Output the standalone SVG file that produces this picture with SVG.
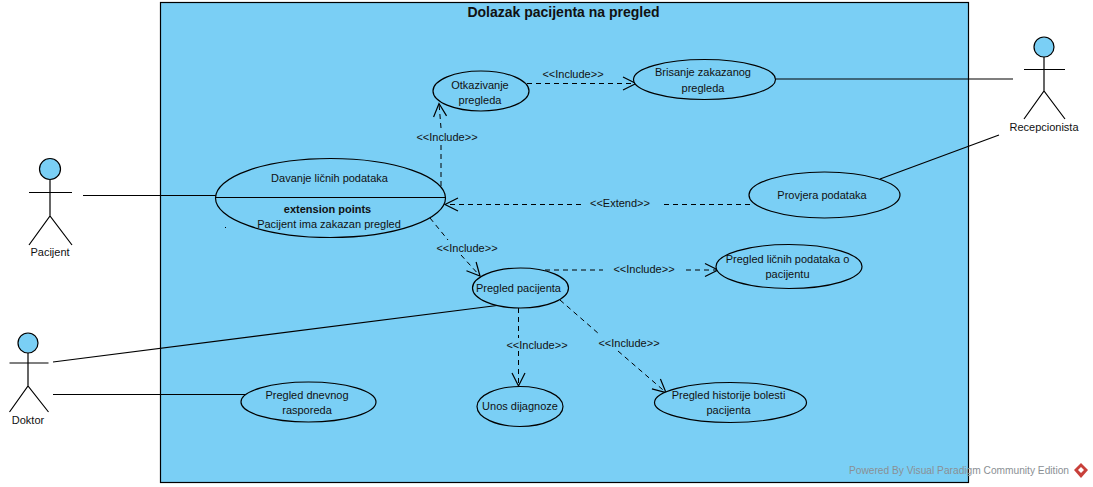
<svg xmlns="http://www.w3.org/2000/svg" width="1093" height="487" viewBox="0 0 1093 487">
<style>
text{font-family:"Liberation Sans",Arial,sans-serif;font-size:11px;fill:#111;text-anchor:middle}
.title{font-size:14px;font-weight:bold}
.b{font-weight:bold}
.uc{fill:#7acff5;stroke:#000;stroke-width:1.2}
.ln{fill:none;stroke:#000;stroke-width:1.2}
.dash{fill:none;stroke:#000;stroke-width:1;stroke-dasharray:5 4;marker-end:url(#open)}
.wm{fill:#8a8f94;text-anchor:start}
</style>
<defs>
<marker id="open" markerUnits="userSpaceOnUse" markerWidth="16" markerHeight="16" viewBox="0 0 16 16" refX="14" refY="8" orient="auto">
<path d="M1 1.5L14 8L1 14.5" fill="none" stroke="#000" stroke-width="1.2"/>
</marker>
</defs>
<rect id="system" x="160.5" y="2.5" width="808" height="480" fill="#7acff5" stroke="#000" stroke-width="1.2"/>
<text class="title" x="563.5" y="17">Dolazak pacijenta na pregled</text>
<g id="connectors">
<path class="ln" d="M83 195.5H216"/>
<path class="ln" d="M53 362L497 305.5"/>
<path class="ln" d="M53 394.5H246"/>
<path class="ln" d="M776 79H1013"/>
<path class="ln" d="M880 179L999 135"/>
<path class="dash" d="M441 186V145M441 128L439 103.500"/>
<path class="dash" d="M527 83.500H636"/>
<path class="dash" d="M750 204.500H662M581 204.500H445"/>
<path class="dash" d="M430 218L448 240M461 255L480 276"/>
<path class="dash" d="M545 270H603M686 270H718"/>
<path class="dash" d="M518.500 308V338M518.500 351V386"/>
<path class="dash" d="M560 300L599 334M618 351L666 392.500"/>
<g>
<text x="447" y="141">&lt;&lt;Include&gt;&gt;</text>
<text x="573" y="78">&lt;&lt;Include&gt;&gt;</text>
<text x="620" y="207">&lt;&lt;Extend&gt;&gt;</text>
<text x="467" y="252">&lt;&lt;Include&gt;&gt;</text>
<text x="644" y="273">&lt;&lt;Include&gt;&gt;</text>
<text x="537" y="349">&lt;&lt;Include&gt;&gt;</text>
<text x="629" y="347">&lt;&lt;Include&gt;&gt;</text>
</g>
</g>
<g id="actor-pacijent">
<circle class="uc" cx="50" cy="169" r="10.5"/>
<path class="ln" d="M50 180V216M29 192.500H72M29 245L50 216L72 245"/>
<text x="50" y="256">Pacijent</text>
</g>
<g id="actor-doktor">
<ellipse class="uc" cx="28" cy="343" rx="10" ry="10"/>
<path class="ln" d="M28 353V386M9.500 363H48.500M9.500 412L28 386L48.500 412"/>
<text x="28" y="424">Doktor</text>
</g>
<g id="actor-recepcionista">
<ellipse class="uc" cx="1044" cy="47" rx="10" ry="10"/>
<path class="ln" d="M1044 57V91M1024 69.500H1065M1024 119L1044 91L1065 119"/>
<text x="1044" y="131">Recepcionista</text>
</g>
<g id="uc-davanje">
<ellipse class="uc" cx="330.500" cy="198" rx="115" ry="39.500"/>
<path class="ln" d="M215.500 197.500H445.500"/>
<text x="329.500" y="182">Davanje ličnih podataka</text>
<text class="b" x="327.500" y="213">extension points</text>
<text x="329" y="228">Pacijent ima zakazan pregled</text>
<rect x="225" y="227" width="1" height="1" fill="#000"/>
</g>
<g id="uc-otkazivanje">
<ellipse class="uc" cx="481" cy="91" rx="48" ry="20"/>
<text x="480" y="89">Otkazivanje</text>
<text x="480" y="104">pregleda</text>
</g>
<g id="uc-brisanje">
<ellipse class="uc" cx="704.500" cy="79.500" rx="71" ry="20"/>
<text x="703" y="76">Brisanje zakazanog</text>
<text x="703" y="92">pregleda</text>
</g>
<g id="uc-provjera">
<ellipse class="uc" cx="824.500" cy="195" rx="75.500" ry="23"/>
<text x="822" y="199">Provjera podataka</text>
</g>
<g id="uc-pregled-pacijenta">
<ellipse class="uc" cx="520.500" cy="288" rx="48" ry="20"/>
<text x="518.500" y="292">Pregled pacijenta</text>
</g>
<g id="uc-pregled-licnih">
<ellipse class="uc" cx="789" cy="266.500" rx="73" ry="22"/>
<text x="787.500" y="263">Pregled ličnih podataka o</text>
<text x="787.500" y="278">pacijentu</text>
</g>
<g id="uc-dnevni">
<ellipse class="uc" cx="308.500" cy="402" rx="67.500" ry="20"/>
<text x="307" y="399">Pregled dnevnog</text>
<text x="307" y="414">rasporeda</text>
</g>
<g id="uc-unos">
<ellipse class="uc" cx="520" cy="406.500" rx="43" ry="20"/>
<text x="520" y="410">Unos dijagnoze</text>
</g>
<g id="uc-historija">
<ellipse class="uc" cx="730.500" cy="402.500" rx="76" ry="20"/>
<text x="728.500" y="399">Pregled historije bolesti</text>
<text x="728.500" y="414">pacijenta</text>
</g>
<g id="watermark">
<text class="wm" x="849" y="474" textLength="220" lengthAdjust="spacingAndGlyphs">Powered By Visual Paradigm Community Edition</text>
<path d="M1081 463L1088 470L1081 478L1074 470Z" fill="#c8403a"/>
<path d="M1081 467L1084 470L1081 473L1078 470Z" fill="#fff"/>
</g>
</svg>
